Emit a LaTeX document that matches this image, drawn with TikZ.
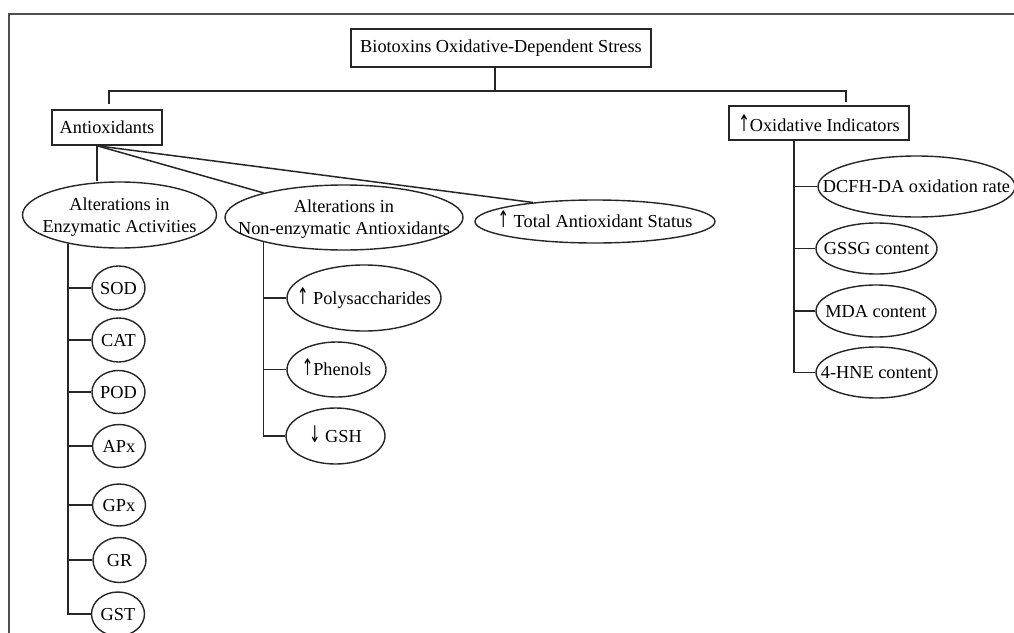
\documentclass[tikz,border=0pt]{standalone}
\usepackage{fontspec}
\setmainfont{Liberation Serif}
\newfontfamily\arrowfont{DejaVu Sans}
\usetikzlibrary{shapes.geometric}
\newcommand{\elltext}[1]{\makebox[0pt]{\raisebox{-6pt}[0pt][0pt]{#1}}}
\newcommand{\elltwo}[2]{\makebox[0pt]{\raisebox{-6pt}[0pt][0pt]{\begin{tabular}{@{}c@{}}#1\\#2\end{tabular}}}}
\newcommand{\upar}{{\arrowfont\scalebox{0.75}[1.25]{↑}}}
\newcommand{\downar}{{\arrowfont\scalebox{0.75}[1.25]{↓}}}
\definecolor{linecol}{HTML}{262626}
\definecolor{framecol}{HTML}{505050}
\begin{document}
\begin{tikzpicture}[x=1pt,y=-1pt,
  every node/.style={font=\fontsize{18.3}{22}\selectfont},
  box/.style={draw=linecol, line width=1.5pt, rectangle, inner sep=0pt},
  ell/.style={draw=linecol, line width=1.4pt, ellipse, inner sep=0pt},
  conn/.style={draw=linecol, line width=1.5pt}]
\useasboundingbox (0,0) rectangle (1014,632);
\clip (0,0) rectangle (1014,632);
\fill[white] (0,0) rectangle (1014,632);
\draw[framecol, line width=2pt] (9,650) -- (9,14) -- (1030,14);

% boxes
\node[box, minimum width=300pt, minimum height=38pt] (top) at (501,48) {Biotoxins Oxidative-Dependent Stress};
\node[box, minimum width=110pt, minimum height=35pt] (anti) at (107,127.5) {Antioxidants};
\node[box, minimum width=180pt, minimum height=34pt] (oxi) at (819,123) {\upar Oxidative Indicators};

% second level ellipses
\node[ell, minimum width=194pt, minimum height=66pt] (enz) at (119.5,215) {\elltwo{Alterations in}{Enzymatic Activities}};
\node[ell, minimum width=238pt, minimum height=65pt] (nonenz) at (344,217.5) {\elltwo{Alterations in}{Non-enzymatic Antioxidants}};
\node[ell, minimum width=240pt, minimum height=43pt] (total) at (595,221.5) {\elltext{\upar\ Total Antioxidant Status}};

% enzymes
\node[ell, minimum width=53pt, minimum height=44pt] (sod) at (118.5,288) {\elltext{SOD}};
\node[ell, minimum width=53pt, minimum height=44pt] (cat) at (118.5,340) {\elltext{CAT}};
\node[ell, minimum width=53pt, minimum height=43pt] (pod) at (118.5,392) {\elltext{POD}};
\node[ell, minimum width=53pt, minimum height=43pt] (apx) at (119,446) {\elltext{APx}};
\node[ell, minimum width=53pt, minimum height=42pt] (gpx) at (119,505) {\elltext{GPx}};
\node[ell, minimum width=53pt, minimum height=45pt] (gr) at (119.5,560) {\elltext{GR}};
\node[ell, minimum width=53pt, minimum height=44pt] (gst) at (118,614) {\elltext{GST}};

% non-enzymatic
\node[ell, minimum width=154pt, minimum height=66pt] (poly) at (364,298) {\elltext{\upar\ Polysaccharides}};
\node[ell, minimum width=99pt, minimum height=55pt] (phen) at (336.5,369.5) {\elltext{\upar Phenols}};
\node[ell, minimum width=99pt, minimum height=56pt] (gsh) at (335.5,436) {\elltext{\downar\ GSH}};

% oxidative indicators
\node[ell, minimum width=197pt, minimum height=61pt] (dcfh) at (916.5,186.5) {\elltext{DCFH-DA oxidation rate}};
\node[ell, minimum width=121pt, minimum height=51pt] (gssg) at (876.5,248.5) {\elltext{GSSG content}};
\node[ell, minimum width=120pt, minimum height=52pt] (mda) at (876,311) {\elltext{MDA content}};
\node[ell, minimum width=121pt, minimum height=51pt] (hne) at (876.5,372.5) {\elltext{4-HNE content}};

% top connectors
\coordinate (junc) at (495,91);
\draw[conn] ([xshift=-6pt]top.south) -- (junc);
\draw[conn] (junc) -| ([xshift=2pt,yshift=5pt]anti.north);
\draw[conn] (junc) -| ([xshift=27pt,yshift=3pt]oxi.north);

% antioxidants connectors
\draw[conn] ([xshift=-10pt]anti.south) -- ([xshift=-10pt]anti.south |- enz.north);
\draw[conn] ([xshift=-10pt]anti.south) -- (nonenz.163);
\draw[conn] ([xshift=-10pt]anti.south) -- (total.163);

% enzymatic trunk
\foreach \n in {sod,cat,pod,apx,gpx,gr,gst}
  \draw[conn] (enz.209) |- (\n.west);

% non-enzymatic trunk
\foreach \n in {poly,phen,gsh}
  \draw[conn] (nonenz.197) |- (\n.west);

% oxidative trunk
\foreach \n in {dcfh,gssg,mda,hne}
  \draw[conn] ([xshift=-25pt]oxi.south) |- (\n.west);
\end{tikzpicture}
\end{document}
